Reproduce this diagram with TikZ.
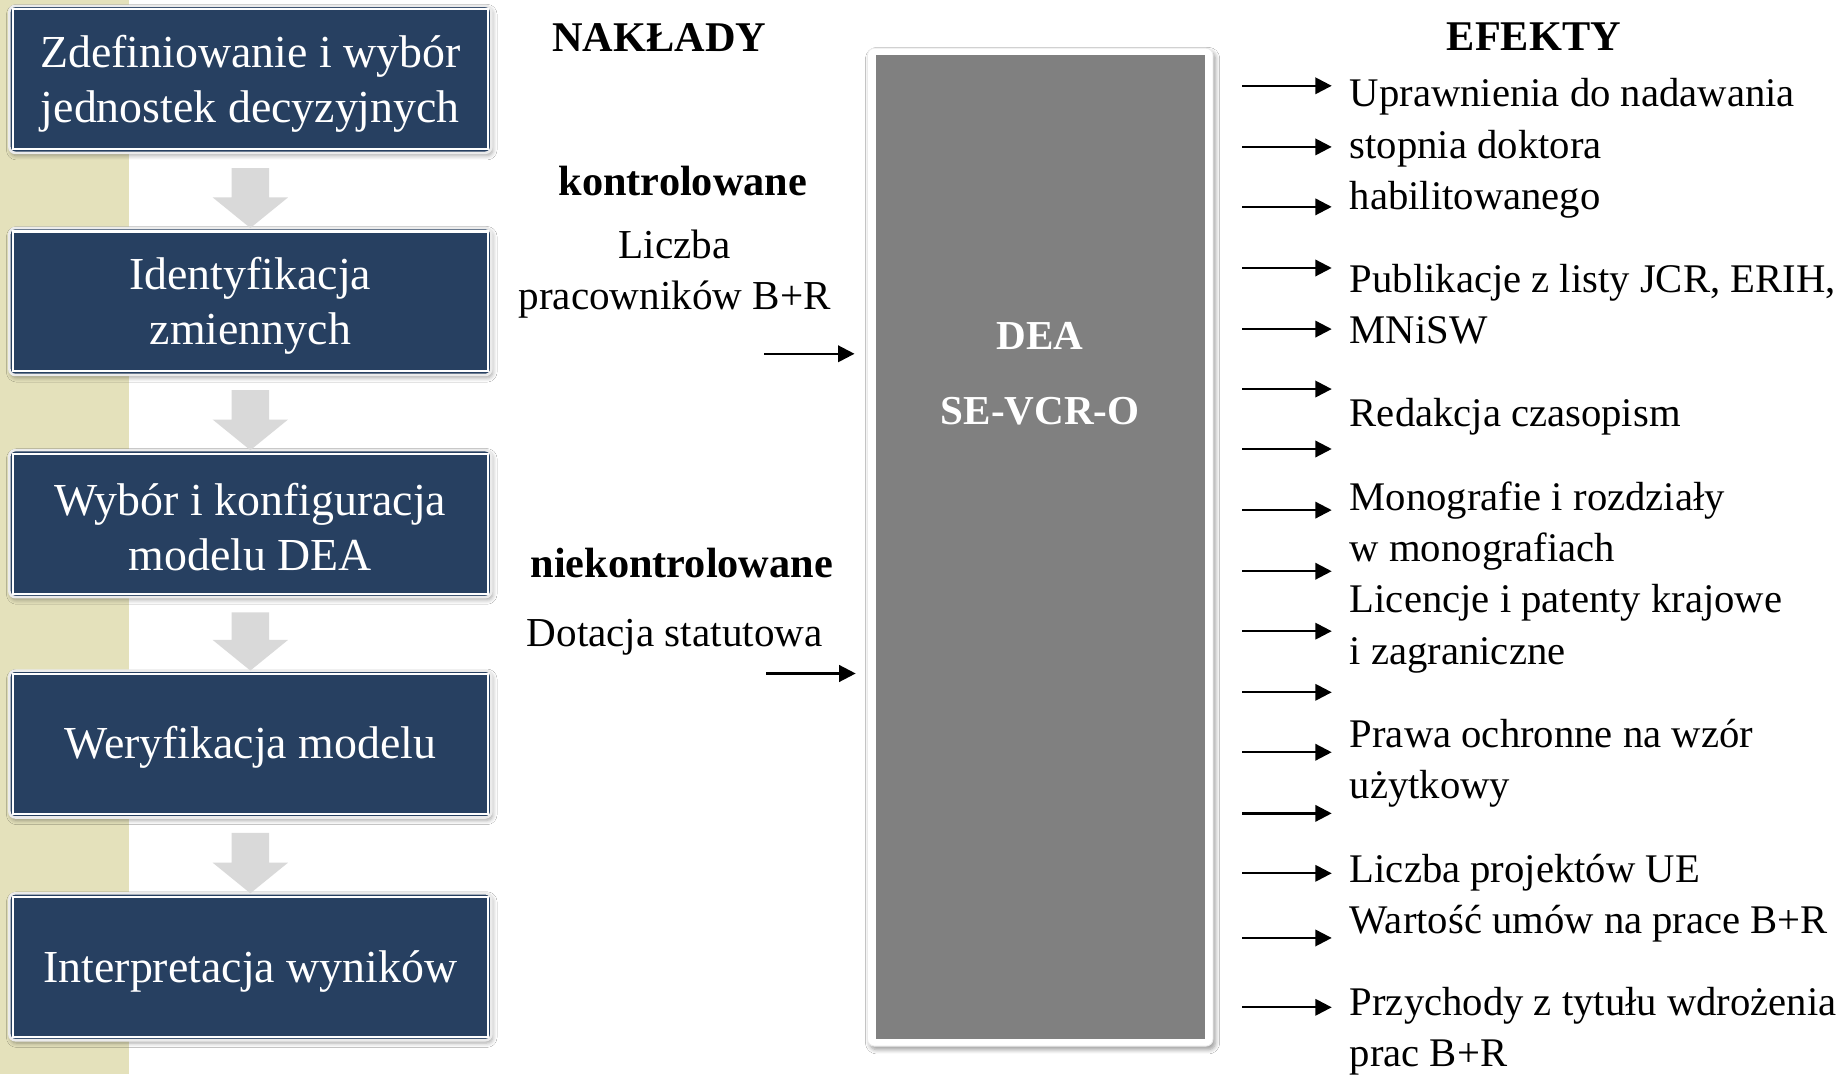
\documentclass[tikz,border=0pt]{standalone}
\usepackage{fontspec}
\setmainfont{Liberation Serif}
\usetikzlibrary{arrows.meta,calc,shadows.blur}
\definecolor{navy}{RGB}{39,64,97}
\definecolor{strip}{RGB}{228,225,187}
\definecolor{flowgray}{RGB}{217,217,217}
\definecolor{deagray}{RGB}{128,128,128}
\begin{document}
\begin{tikzpicture}[x=0.5pt,y=-0.5pt,
  stepbox/.style={fill=navy, draw=black!8, line width=1.1pt, rounded corners=2.5pt,
    minimum width=205pt, minimum height=62.5pt, inner sep=0pt, outer sep=0pt,
    blur shadow={shadow xshift=0.6pt, shadow yshift=-1.2pt, shadow blur steps=5, shadow opacity=35}},
  steptext/.style={inner sep=0pt, text=white, align=center, font=\fontsize{19.5}{23.5}\selectfont},
  innerline/.style={draw=white, line width=0.9pt},
  flowarrow/.style={fill=flowgray},
  lbl/.style={anchor=base, inner sep=0pt, font=\fontsize{17.5}{21}\selectfont},
  hdr/.style={anchor=base, inner sep=0pt, font=\bfseries\fontsize{18}{21}\selectfont},
  outtxt/.style={anchor=base west, inner sep=0pt, font=\fontsize{17.3}{21}\selectfont},
  dealbl/.style={anchor=base, inner sep=0pt, text=white, font=\bfseries\fontsize{17.5}{21}\selectfont},
  arr/.style={-{Triangle[length=7pt,width=7pt]}, line width=1pt}]

\useasboundingbox (0,0) rectangle (1568,914);
\fill[white] (0,0) rectangle (1568,914);
% side strip
\fill[strip] (0,0) rectangle (110,914);

% process steps
\node[stepbox] (b1) at (213,67.5) {};
\node[stepbox] (b2) at (213,256.5) {};
\node[stepbox] (b3) at (213,445.5) {};
\node[stepbox] (b4) at (213,633) {};
\node[stepbox] (b5) at (213,822.5) {};
\foreach \b in {b1,b2,b3,b4,b5}
  \draw[innerline] ([shift={(3,3)}]\b.north west) rectangle ([shift={(-3,-3)}]\b.south east);
\node[steptext] (s1) at ([yshift=-2pt]b1.center) {Zdefiniowanie i wybór\\jednostek decyzyjnych};
\node[steptext] (s2) at ([yshift=-2pt]b2.center) {Identyfikacja\\zmiennych};
\node[steptext] (s3) at ([yshift=-1.5pt]b3.center) {Wybór i konfiguracja\\modelu DEA};
\node[steptext] (s4) at ([yshift=-1.5pt]b4.center) {Weryfikacja modelu};
\node[steptext] (s5) at ([yshift=-2pt]b5.center) {Interpretacja wyników};

% block arrows between steps
\foreach \u/\v in {b1/b2,b2/b3,b3/b4,b4/b5}
  \fill[flowarrow] let \p1=(\u.south), \p2=(\v.north) in
    (\x1-8pt,\y1-6.5pt) -- (\x1+8pt,\y1-6.5pt) -- (\x1+8pt,\y2+13pt) -- (\x1+16pt,\y2+13pt)
    -- (\x2,\y2) -- (\x1-16pt,\y2+13pt) -- (\x1-8pt,\y2+13pt) -- cycle;

% DEA block
\node[fill=white, draw=black!8, line width=0.4pt, rounded corners=3pt,
  minimum width=147pt, minimum height=424.5pt, inner sep=0pt, outer sep=0pt,
  blur shadow={shadow xshift=1pt, shadow yshift=-1.5pt, shadow blur steps=6, shadow opacity=40}]
  (dea) at (885,465.5) {};
\fill[deagray] ([shift={(7,6)}]dea.north west) rectangle ([shift={(-7,-6)}]dea.south east);
\node[dealbl] (deaA) at (885,297) {DEA};
\node[dealbl] (deaB) at (885,361) {SE-VCR-O};

% inputs
\node[hdr] (nak) at (561,44) {NAKŁADY};
\node[hdr] (kon) at (581,166) {kontrolowane};
\node[lbl] (in1a) at (574,220) {Liczba};
\node[lbl] (in1b) at (574,263) {pracowników B+R};
\node[hdr] (niek) at (580,491) {niekontrolowane};
\node[lbl] (in2) at (574,550) {Dotacja statutowa};
\coordinate (i1) at (650,301);
\coordinate (i2) at (652,573);
\draw[arr] (i1) -- ([xshift=-5.5pt]i1 -| dea.west);
\draw[arr] (i2) -- ([xshift=-5pt]i2 -| dea.west);

% outputs
\node[hdr] (efe) at (1305,43) {EFEKTY};
\foreach \y [count=\i] in {73,125,176,228,280,331,382,434,486,537,589,640,692,743,798,857} {
  \coordinate (o\i) at (1057,\y);
  \coordinate (t\i) at (1133,\y);
  \draw[arr] (o\i) -- (t\i);
}
\node[outtxt] (e1a) at (1148,91) {Uprawnienia do nadawania};
\node[outtxt] (e1b) at (1148,135) {stopnia doktora};
\node[outtxt] (e1c) at (1148,178) {habilitowanego};
\node[outtxt] (e2a) at (1148,249) {Publikacje z listy JCR, ERIH,};
\node[outtxt] (e2b) at (1148,292) {MNiSW};
\node[outtxt] (e3) at (1148,363) {Redakcja czasopism};
\node[outtxt] (e4a) at (1148,434) {Monografie i rozdziały};
\node[outtxt] (e4b) at (1148,478) {w monografiach};
\node[outtxt] (e5a) at (1148,521) {Licencje i patenty krajowe};
\node[outtxt] (e5b) at (1148,565) {i zagraniczne};
\node[outtxt] (e6a) at (1148,636) {Prawa ochronne na wzór};
\node[outtxt] (e6b) at (1148,679) {użytkowy};
\node[outtxt] (e7) at (1148,751) {Liczba projektów UE};
\node[outtxt] (e8) at (1148,794) {Wartość umów na prace B+R};
\node[outtxt] (e9a) at (1148,864) {Przychody z tytułu wdrożenia};
\node[outtxt] (e9b) at (1148,907) {prac B+R};
\end{tikzpicture}
\end{document}
